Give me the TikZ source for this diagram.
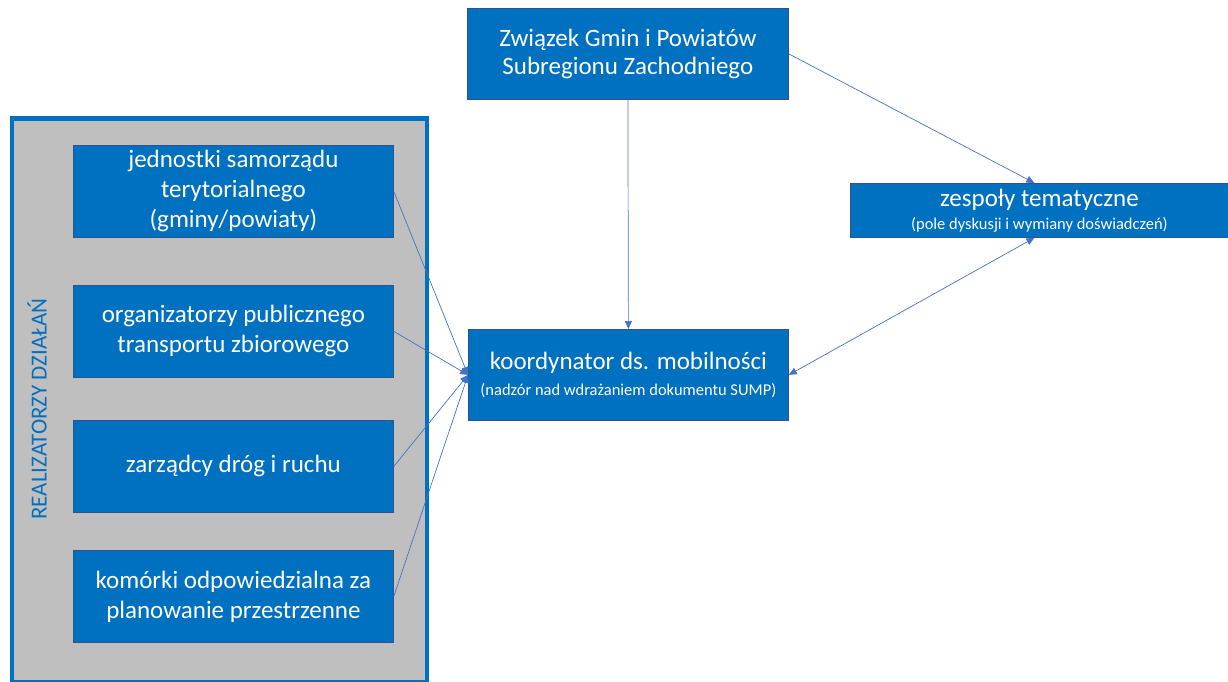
\documentclass[tikz,border=0pt]{standalone}
\usepackage{fontspec}
\setmainfont{Carlito}
\usetikzlibrary{arrows.meta}
\definecolor{boxblue}{HTML}{0070C0}
\definecolor{boxedge}{HTML}{2F528F}
\definecolor{linkblue}{HTML}{4472C4}
\definecolor{panelgray}{HTML}{BFBFBF}
\tikzset{
  box/.style={draw=boxedge, line width=0.8pt, fill=boxblue, text=white, align=center,
    anchor=north west, inner sep=0pt, font=\fontsize{25}{30}\selectfont},
  link/.style={draw=linkblue, line width=0.7pt, -{Triangle[length=8pt,width=7pt]}},
  dlink/.style={draw=linkblue, line width=0.7pt, {Triangle[length=8pt,width=7pt]}-{Triangle[length=8pt,width=7pt]}}
}
\newcommand{\subtxt}[1]{{\fontsize{16.5}{20}\selectfont #1}}
\begin{document}
\begin{tikzpicture}[x=1pt,y=-1pt]
\useasboundingbox (0,0) rectangle (1228,682);
% panel
\node[draw=boxblue, line width=4.5pt, fill=panelgray, anchor=north west, minimum width=415pt, minimum height=563pt, inner sep=0pt] (panel) at (9.5,116.5) {};
\node[text=boxblue, rotate=90, font=\fontsize{23}{26}\selectfont] (plabel) at (37,409) {REALIZATORZY DZIAŁAŃ};
% left boxes
\node[box, minimum width=320pt, minimum height=92pt] (b1) at (73,145) {jednostki samorządu\\terytorialnego\\(gminy/powiaty)};
\node[box, minimum width=320pt, minimum height=92pt] (b2) at (73,285) {organizatorzy publicznego\\transportu zbiorowego};
\node[box, minimum width=320pt, minimum height=92pt] (b3) at (73,420) {zarządcy dróg i ruchu};
\node[box, minimum width=320pt, minimum height=92pt] (b4) at (73,550) {komórki odpowiedzialna za\\planowanie przestrzenne};
% right boxes
\node[box, minimum width=321pt, minimum height=91pt] (top) at (467,8) {Związek Gmin i Powiatów\\[-2pt]Subregionu Zachodniego};
\node[box, minimum width=320pt, minimum height=91pt] (k) at (468,329) {koordynator ds. mobilności\\[-4pt]\subtxt{(nadzór nad wdrażaniem dokumentu SUMP)}};
\node[box, minimum width=378pt, minimum height=54pt] (zt) at (850,183) {zespoły tematyczne\\[-7pt]\subtxt{(pole dyskusji i wymiany doświadczeń)}};
\coordinate (ztin) at ([xshift=-5pt]zt.north);
\coordinate (ztout) at ([xshift=-5pt]zt.south);
% connectors
\draw[link] (b1.east) -- (k.west);
\draw[link] (b2.east) -- (k.west);
\draw[link] (b3.east) -- (k.west);
\draw[link] (b4.east) -- (k.west);
\draw[link] (top.south) -- (k.north);
\draw[link] (top.east) -- (ztin);
\draw[dlink] (ztout) -- (k.east);
\end{tikzpicture}
\end{document}
